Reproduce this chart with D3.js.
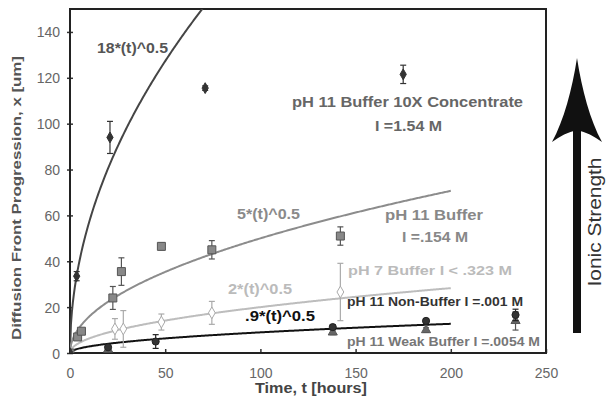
<!DOCTYPE html>
<html>
<head>
<meta charset="utf-8">
<script src="https://cdn.jsdelivr.net/npm/d3@7"></script>
<style>
  body { margin: 0; background: #fff; }
  svg text { font-family: "Liberation Sans", Arial, sans-serif; }
</style>
</head>
<body>
<div id="vis"></div>
<script>
// Fit coefficients: x = k * sqrt(t)
var fitK = [18, 5, 2, 0.9];
var fitLabels = ['18*(t)^0.5', '5*(t)^0.5', '2*(t)^0.5', '.9*(t)^0.5'];
var fitColors = ['#454545', '#8c8c8c', '#bdbdbd', '#111'];

// Measured points per series (time in hours, front in um, error +/-)
var concT = [0, 3.5, 21, 71, 175];
var concX = [0, 33.5, 94, 115.5, 121.5];
var concE = [0, 2, 7, 1, 4];

var bufT = [0, 4, 6, 22.5, 27, 48, 74.5, 142];
var bufX = [0, 7, 9.5, 24, 35.5, 46.5, 45, 51];
var bufE = [0, 1, 1, 5, 6, 1.5, 4, 4];

var ph7T = [0, 23.6, 28, 48, 74.5, 142];
var ph7X = [0, 10.5, 10.5, 13.5, 17.5, 26.6];
var ph7E = [0, 4.5, 8, 3.5, 5, 12.5];

var nonT = [0, 20, 45, 138, 187, 234];
var nonX = [0, 2.5, 5, 11.3, 14, 16.6];
var nonE = [0, 0.5, 3, 1, 1, 2.5];

var weakT = [0, 20, 138, 187, 234];
var weakX = [0, 1.5, 9, 10, 14];
var weakE = [0, 0.5, 1, 1, 4];

var xTicks = [0, 50, 100, 150, 200, 250];
var yTicks = [0, 20, 40, 60, 80, 100, 120, 140];

var width = 610, height = 401;
var margin = { left: 70, top: 9, right: 64, bottom: 48 };
var drawWidth = width - margin.left - margin.right;
var drawHeight = height - margin.top - margin.bottom;

var svg = d3.select('#vis').append('svg')
    .attr('width', width)
    .attr('height', height);

var g = svg.append('g')
    .attr('transform', 'translate(' + margin.left + ',' + margin.top + ')');

var xScale = d3.scaleLinear().domain([0, 250]).range([0, drawWidth]);
var yScale = d3.scaleLinear().domain([0, 150]).range([drawHeight, 0]);

svg.append('defs').append('clipPath').attr('id', 'clip')
    .append('rect').attr('width', drawWidth).attr('height', drawHeight);

// Axes
var xAxis = d3.axisBottom(xScale).tickValues(xTicks).tickSizeInner(-4).tickSizeOuter(0).tickPadding(15);
var yAxis = d3.axisLeft(yScale).tickValues(yTicks).tickSizeInner(4).tickSizeOuter(0).tickPadding(6);

var xg = g.append('g').attr('transform', 'translate(0,' + drawHeight + ')').call(xAxis);
var yg = g.append('g').call(yAxis);
[xg, yg].forEach(function(a) {
    a.select('.domain').remove();
    a.selectAll('line').attr('stroke', '#333').attr('stroke-width', 1.5);
    a.selectAll('text').attr('fill', '#666').style('font-size', '14px');
});
yg.selectAll('line').attr('x1', -3).attr('x2', 3);
yg.selectAll('text').attr('dy', '0.36em');

// Plot frame
g.append('rect')
    .attr('width', drawWidth).attr('height', drawHeight)
    .attr('fill', 'none').attr('stroke', '#222').attr('stroke-width', 2);

// Fit curves
var tSteps = d3.range(0, 200.5, 0.5);
var plot = g.append('g').attr('clip-path', 'url(#clip)');
fitK.forEach(function(k, i) {
    plot.append('path')
        .datum(tSteps)
        .attr('fill', 'none')
        .attr('stroke', fitColors[i])
        .attr('stroke-width', 2)
        .attr('d', d3.line()
            .x(function(t) { return xScale(t); })
            .y(function(t) { return yScale(k * Math.sqrt(t)); }));
});

function series(ts, xs, es, color, shape, fill, size) {
    var data = ts.map(function(t, i) { return { t: t, x: xs[i], e: es[i] }; });
    var s = plot.append('g');
    var eb = s.selectAll('g.err').data(data.filter(function(d) { return d.e > 0; }))
        .enter().append('g').attr('stroke', color).attr('stroke-width', 1.2);
    eb.append('line')
        .attr('x1', function(d) { return xScale(d.t); })
        .attr('x2', function(d) { return xScale(d.t); })
        .attr('y1', function(d) { return yScale(d.x - d.e); })
        .attr('y2', function(d) { return yScale(d.x + d.e); });
    [-1, 1].forEach(function(sg) {
        eb.append('line')
            .attr('x1', function(d) { return xScale(d.t) - 3; })
            .attr('x2', function(d) { return xScale(d.t) + 3; })
            .attr('y1', function(d) { return yScale(d.x + sg * d.e); })
            .attr('y2', function(d) { return yScale(d.x + sg * d.e); });
    });
    s.selectAll('path.pt').data(data).enter().append('path')
        .attr('d', d3.symbol().type(shape).size(size))
        .attr('transform', function(d) { return 'translate(' + xScale(d.t) + ',' + yScale(d.x) + ')'; })
        .attr('fill', fill)
        .attr('stroke', color)
        .attr('stroke-width', 1);
}

series(weakT, weakX, weakE, '#555', d3.symbolTriangle, '#666', 36);
series(nonT, nonX, nonE, '#222', d3.symbolCircle, '#333', 40);
series(ph7T, ph7X, ph7E, '#aaa', d3.symbolDiamond, '#fff', 40);
series(bufT, bufX, bufE, '#555', d3.symbolSquare, '#888', 64);
series(concT, concX, concE, '#333', d3.symbolDiamond, '#333', 34);

// Annotations (x = centre, w = rendered width)
var notes = [
    { text: '18*(t)^0.5', x: 132.5, y: 53, w: 71, c: '#555', s: 14 },
    { text: 'pH 11 Buffer 10X Concentrate', x: 407.5, y: 107, w: 231, c: '#666', s: 14 },
    { text: 'I =1.54 M', x: 408.5, y: 131, w: 67, c: '#666', s: 14 },
    { text: '5*(t)^0.5', x: 268.5, y: 219, w: 63, c: '#8a8a8a', s: 14 },
    { text: 'pH 11 Buffer', x: 434, y: 220, w: 98, c: '#888', s: 14 },
    { text: 'I =.154 M', x: 435, y: 242, w: 66, c: '#888', s: 14 },
    { text: '2*(t)^0.5', x: 260, y: 294, w: 64, c: '#bbb', s: 14 },
    { text: 'pH 7 Buffer I < .323 M', x: 430, y: 275, w: 164, c: '#bbb', s: 13.5 },
    { text: '.9*(t)^0.5', x: 280, y: 321, w: 70, c: '#111', s: 14 },
    { text: 'pH 11 Non-Buffer I =.001 M', x: 435, y: 306, w: 176, c: '#333', s: 12.5 },
    { text: 'pH 11 Weak Buffer I =.0054 M', x: 443.5, y: 346, w: 193, c: '#777', s: 12.5 }
];
svg.selectAll('text.note').data(notes).enter().append('text')
    .attr('x', function(d) { return d.x; })
    .attr('y', function(d) { return d.y; })
    .attr('text-anchor', 'middle')
    .attr('textLength', function(d) { return d.w; })
    .attr('lengthAdjust', 'spacingAndGlyphs')
    .attr('fill', function(d) { return d.c; })
    .style('font-size', function(d) { return d.s + 'px'; })
    .style('font-weight', 'bold')
    .text(function(d) { return d.text; });

// Axis titles
svg.append('text')
    .attr('x', 311).attr('y', 393)
    .attr('text-anchor', 'middle').attr('fill', '#444')
    .attr('textLength', 112).attr('lengthAdjust', 'spacingAndGlyphs')
    .style('font-size', '14px').style('font-weight', 'bold')
    .text('Time, t [hours]');
svg.append('text')
    .attr('transform', 'translate(21,198) rotate(-90)')
    .attr('text-anchor', 'middle').attr('fill', '#555')
    .attr('textLength', 284).attr('lengthAdjust', 'spacingAndGlyphs')
    .style('font-size', '13px').style('font-weight', 'bold')
    .text('Diffusion Front Progression, x [um]');

// Ionic strength arrow
var arrow = svg.append('g');
arrow.append('rect').attr('x', 573).attr('y', 120).attr('width', 8).attr('height', 213).attr('fill', '#111');
arrow.append('path')
    .attr('d', 'M577,58 C582,90 590,120 602,142 C594,136 586,132 577,130 C568,132 560,136 552,142 C564,120 572,90 577,58 Z')
    .attr('fill', '#111');
arrow.append('text')
    .attr('transform', 'translate(601,222) rotate(-90)')
    .attr('text-anchor', 'middle').attr('fill', '#333')
    .attr('textLength', 129).attr('lengthAdjust', 'spacingAndGlyphs')
    .style('font-size', '19px')
    .text('Ionic Strength');
</script>
</body>
</html>
